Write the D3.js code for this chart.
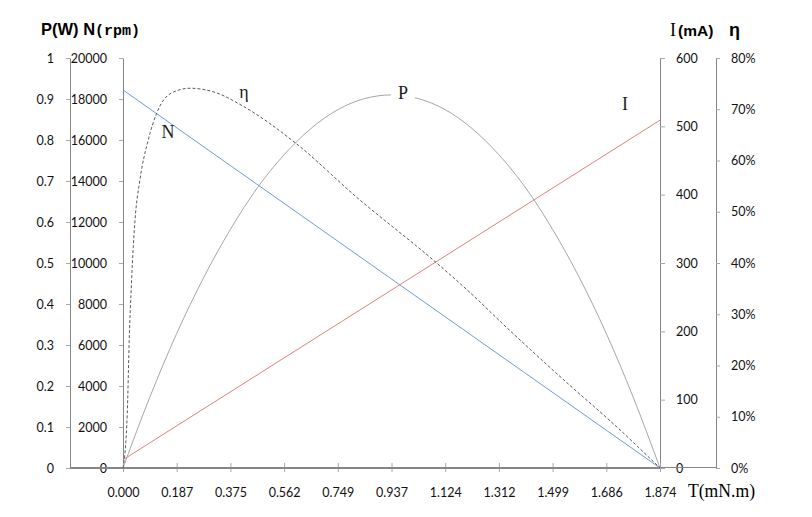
<!DOCTYPE html>
<html>
<head>
<meta charset="utf-8">
<script src="https://cdn.jsdelivr.net/npm/d3@7"></script>
<style>
  html, body { margin: 0; padding: 0; background: #fff; }
  svg { display: block; }
  .tl text { font-family: Lato, "Open Sans", sans-serif; font-size: 12.5px; fill: #111; }
</style>
</head>
<body>
<svg id="chart" width="812" height="517"></svg>
<script>
// ---------- data ----------
const torqueTickValues = [0, 0.1874, 0.3748, 0.5622, 0.7496, 0.937, 1.1244, 1.3118, 1.4992, 1.6866, 1.874];
const torqueTickLabels = ["0.000", "0.187", "0.375", "0.562", "0.749", "0.937", "1.124", "1.312", "1.499", "1.686", "1.874"];

const powerTicks = [0, 0.1, 0.2, 0.3, 0.4, 0.5, 0.6, 0.7, 0.8, 0.9, 1];
const powerTickLabels = ["0", "0.1", "0.2", "0.3", "0.4", "0.5", "0.6", "0.7", "0.8", "0.9", "1"];
const speedTicks = [0, 2000, 4000, 6000, 8000, 10000, 12000, 14000, 16000, 18000, 20000];
const currentTicks = [0, 100, 200, 300, 400, 500, 600];
const effTicks = [0, 10, 20, 30, 40, 50, 60, 70, 80];
const effTickLabels = ["0%", "10%", "20%", "30%", "40%", "50%", "60%", "70%", "80%"];

// speed N (rpm) vs torque
const speedT = [0, 1.874];
const speedN = [18440, 0];

// current I (mA) vs torque
const currentT = [0, 1.874];
const currentI = [12, 509];

// output power P (W) vs torque
const powerT = [0, 0.0937, 0.1874, 0.2811, 0.3748, 0.4685, 0.5622, 0.6559, 0.7496, 0.8433, 0.937,
                1.0307, 1.1244, 1.2181, 1.3118, 1.4055, 1.4992, 1.5929, 1.6866, 1.7803, 1.874];
const powerP = [0, 0.173, 0.328, 0.464, 0.582, 0.683, 0.764, 0.828, 0.874, 0.901, 0.910,
                0.901, 0.874, 0.828, 0.764, 0.683, 0.582, 0.464, 0.328, 0.173, 0];

// efficiency η (%) vs torque
const effT = [0, 0.015, 0.021, 0.030, 0.042, 0.059, 0.088, 0.118, 0.170, 0.234, 0.321, 0.419,
              0.600, 0.816, 1.082, 1.200, 1.339, 1.570, 1.700, 1.874];
const effE = [0, 10.7, 23.6, 36.7, 48.4, 56.2, 64.0, 69.3, 73.2, 74.1, 73.3, 70.6,
              63.5, 52.8, 40.6, 34.8, 27.4, 15.6, 9.2, 0];

// ---------- scales ----------
const svg = d3.select("#chart");
const x = d3.scaleLinear().domain([0, 1.874]).range([123, 660]);
const yP = d3.scaleLinear().domain([0, 1]).range([468, 58]);
const yN = d3.scaleLinear().domain([0, 20000]).range([468, 58]);
const yI = d3.scaleLinear().domain([0, 600]).range([468, 58]);
const yE = d3.scaleLinear().domain([0, 80]).range([468, 58]);

const axisColor = "#868686";
const tickColor = "#a8a8a8";

function styleAxis(g) {
  g.attr("class", "tl");
  g.select(".domain").attr("stroke", axisColor).attr("stroke-width", 1);
  g.selectAll(".tick line").attr("stroke", tickColor);
}

// left P axis
const gP = svg.append("g").attr("transform", "translate(70,0)")
  .call(d3.axisLeft(yP).tickValues(powerTicks).tickFormat((d, i) => powerTickLabels[i])
    .tickSizeInner(4).tickSizeOuter(0).tickPadding(12));
styleAxis(gP);

// left N axis
const gN = svg.append("g").attr("transform", "translate(123,0)")
  .call(d3.axisLeft(yN).tickValues(speedTicks).tickFormat(d3.format("d"))
    .tickSizeInner(4).tickSizeOuter(0).tickPadding(12));
styleAxis(gN);

// right I axis
const gI = svg.append("g").attr("transform", "translate(660,0)")
  .call(d3.axisRight(yI).tickValues(currentTicks).tickFormat(d3.format("d"))
    .tickSizeInner(5).tickSizeOuter(0).tickPadding(11));
styleAxis(gI);

// right η axis
const gE = svg.append("g").attr("transform", "translate(716,0)")
  .call(d3.axisRight(yE).tickValues(effTicks).tickFormat((d, i) => effTickLabels[i])
    .tickSizeInner(4).tickSizeOuter(0).tickPadding(11));
styleAxis(gE);

// thin baseline between I and η axes
svg.append("line").attr("x1", 660).attr("x2", 716).attr("y1", 467.5).attr("y2", 467.5)
  .attr("stroke", axisColor).attr("stroke-width", 1);

// bottom T axis
const gT = svg.append("g").attr("transform", "translate(0,468)")
  .call(d3.axisBottom(x).tickValues(torqueTickValues).tickFormat((d, i) => torqueTickLabels[i])
    .tickSizeInner(4).tickSizeOuter(0));
gT.attr("class", "tl");
gT.select(".domain").remove();
gT.selectAll(".tick line").attr("stroke", tickColor).attr("y1", -5).attr("y2", 4);
gT.selectAll(".tick text").attr("y", 20).attr("dy", "0.71em");
svg.append("line").attr("x1", 70).attr("x2", x(1.874)).attr("y1", 468).attr("y2", 468)
  .attr("stroke", axisColor).attr("stroke-width", 2);

// ---------- series ----------
const plot = svg.append("g");
function drawLine(ts, vs, yScale, color, dash) {
  const pts = ts.map((t, i) => [t, vs[i]]);
  const line = d3.line().x(d => x(d[0])).y(d => yScale(d[1])).curve(d3.curveMonotoneX);
  const p = plot.append("path").datum(pts).attr("d", line)
    .attr("fill", "none").attr("stroke", color).attr("stroke-width", 1);
  if (dash) p.attr("stroke-dasharray", dash);
  return p;
}
drawLine(powerT, powerP, yP, "#a6a6a6");
drawLine(currentT, currentI, yI, "#e0807c");
drawLine(speedT, speedN, yN, "#6f9bd8");
drawLine(effT, effE, yE, "#5a5a5a", "3,2");

// white gap behind "P" label on power curve
svg.append("rect").attr("x", 391).attr("y", 82).attr("width", 24).attr("height", 20).attr("fill", "#fff");

// ---------- labels ----------
const serif = "'Liberation Serif', 'DejaVu Serif', serif";
function lbl(t, xx, yy, size, opts = {}) {
  const e = svg.append("text").attr("x", xx).attr("y", yy).text(t)
    .attr("font-family", opts.family || serif).attr("font-size", size)
    .attr("fill", opts.fill || "#1a1a1a");
  if (opts.weight) e.attr("font-weight", opts.weight);
  if (opts.anchor) e.attr("text-anchor", opts.anchor);
  if (opts.len) e.attr("textLength", opts.len).attr("lengthAdjust", "spacingAndGlyphs");
  return e;
}
lbl("N", 168, 138, 18, { anchor: "middle" });
lbl("η", 244, 98, 18, { anchor: "middle" });
lbl("P", 403, 99, 18, { anchor: "middle" });
lbl("I", 625, 110, 18, { anchor: "middle" });

// axis titles
const t1 = svg.append("text").attr("x", 41).attr("y", 35)
  .attr("font-family", "'Liberation Sans', Arial, sans-serif").attr("font-weight", "bold")
  .attr("font-size", 16.5).attr("fill", "#000");
t1.append("tspan").text("P(W) N");
t1.append("tspan").text("(rpm)").attr("font-family", "'Liberation Mono', 'DejaVu Sans Mono', monospace")
  .attr("font-size", 15);

const t2 = svg.append("text").attr("x", 670).attr("y", 36).attr("fill", "#000");
t2.append("tspan").text("I").attr("font-family", serif).attr("font-size", 18);
t2.append("tspan").text("(mA)").attr("dx", 2).attr("font-family", "'Liberation Sans', Arial, sans-serif")
  .attr("font-weight", "bold").attr("font-size", 15.5);

lbl("η", 729, 36, 18, { family: "'Liberation Sans', Arial, sans-serif", weight: "bold", fill: "#000" });

lbl("T(mN.m)", 688, 497, 18, { len: 67, fill: "#000" });
</script>
</body>
</html>
